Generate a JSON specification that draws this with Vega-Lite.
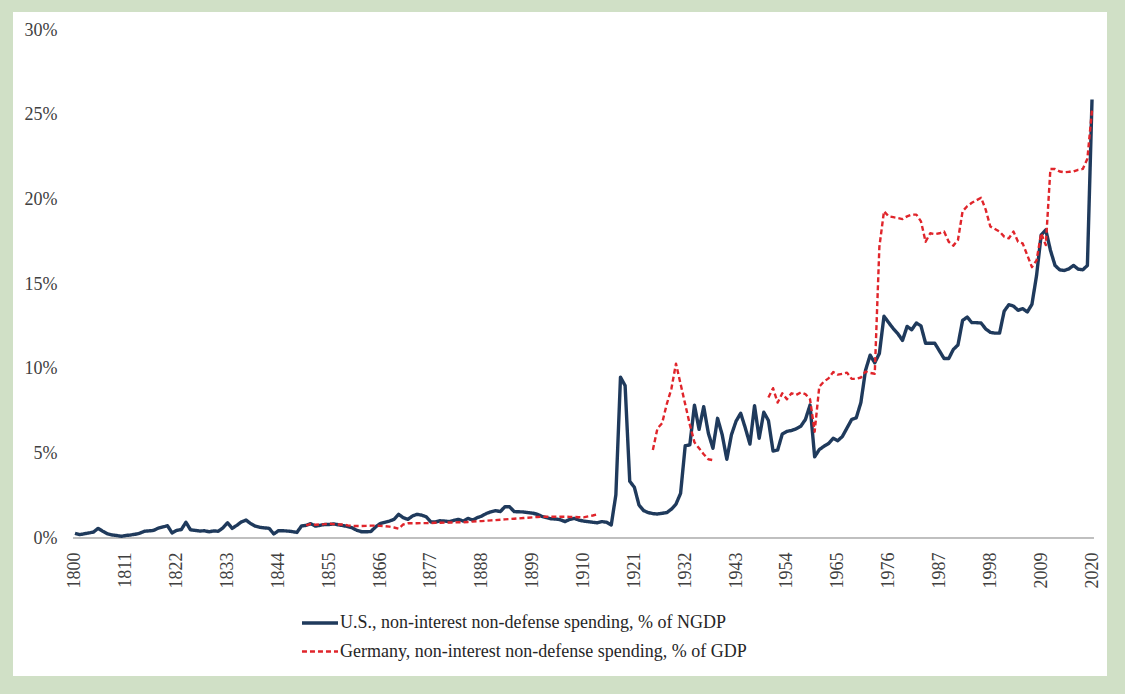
{
  "$schema": "https://vega.github.io/schema/vega-lite/v6.json",
  "width": 1094,
  "height": 664,
  "autosize": {"type": "none"},
  "padding": {"left": 13, "top": 12, "right": 18, "bottom": 18},
  "background": "#d0e0c6",
  "config": {
    "view": {"fill": "white", "stroke": null},
    "font": "Liberation Serif",
    "legend": {
      "orient": "none",
      "legendX": 287,
      "legendY": 591,
      "direction": "vertical",
      "title": null,
      "labelFontSize": 18,
      "labelFont": "Liberation Serif",
      "labelColor": "#262626",
      "labelLimit": 800,
      "labelOffset": 0,
      "symbolType": "stroke",
      "symbolSize": 1300,
      "rowPadding": -8
    }
  },
  "data": {"values": [
{"year":1800,"value":0.28,"series":"US","part":0},{"year":1801,"value":0.2,"series":"US","part":0},{"year":1802,"value":0.25,"series":"US","part":0},{"year":1803,"value":0.3,"series":"US","part":0},{"year":1804,"value":0.35,"series":"US","part":0},{"year":1805,"value":0.57,"series":"US","part":0},{"year":1806,"value":0.4,"series":"US","part":0},{"year":1807,"value":0.25,"series":"US","part":0},{"year":1808,"value":0.18,"series":"US","part":0},{"year":1809,"value":0.15,"series":"US","part":0},
{"year":1810,"value":0.1,"series":"US","part":0},{"year":1811,"value":0.15,"series":"US","part":0},{"year":1812,"value":0.18,"series":"US","part":0},{"year":1813,"value":0.22,"series":"US","part":0},{"year":1814,"value":0.28,"series":"US","part":0},{"year":1815,"value":0.4,"series":"US","part":0},{"year":1816,"value":0.42,"series":"US","part":0},{"year":1817,"value":0.45,"series":"US","part":0},{"year":1818,"value":0.58,"series":"US","part":0},{"year":1819,"value":0.66,"series":"US","part":0},
{"year":1820,"value":0.73,"series":"US","part":0},{"year":1821,"value":0.3,"series":"US","part":0},{"year":1822,"value":0.45,"series":"US","part":0},{"year":1823,"value":0.5,"series":"US","part":0},{"year":1824,"value":0.93,"series":"US","part":0},{"year":1825,"value":0.48,"series":"US","part":0},{"year":1826,"value":0.45,"series":"US","part":0},{"year":1827,"value":0.41,"series":"US","part":0},{"year":1828,"value":0.43,"series":"US","part":0},{"year":1829,"value":0.37,"series":"US","part":0},
{"year":1830,"value":0.42,"series":"US","part":0},{"year":1831,"value":0.4,"series":"US","part":0},{"year":1832,"value":0.6,"series":"US","part":0},{"year":1833,"value":0.9,"series":"US","part":0},{"year":1834,"value":0.57,"series":"US","part":0},{"year":1835,"value":0.75,"series":"US","part":0},{"year":1836,"value":0.95,"series":"US","part":0},{"year":1837,"value":1.06,"series":"US","part":0},{"year":1838,"value":0.85,"series":"US","part":0},{"year":1839,"value":0.7,"series":"US","part":0},
{"year":1840,"value":0.63,"series":"US","part":0},{"year":1841,"value":0.6,"series":"US","part":0},{"year":1842,"value":0.57,"series":"US","part":0},{"year":1843,"value":0.24,"series":"US","part":0},{"year":1844,"value":0.43,"series":"US","part":0},{"year":1845,"value":0.43,"series":"US","part":0},{"year":1846,"value":0.41,"series":"US","part":0},{"year":1847,"value":0.38,"series":"US","part":0},{"year":1848,"value":0.33,"series":"US","part":0},{"year":1849,"value":0.71,"series":"US","part":0},
{"year":1850,"value":0.75,"series":"US","part":0},{"year":1851,"value":0.85,"series":"US","part":0},{"year":1852,"value":0.7,"series":"US","part":0},{"year":1853,"value":0.75,"series":"US","part":0},{"year":1854,"value":0.8,"series":"US","part":0},{"year":1855,"value":0.8,"series":"US","part":0},{"year":1856,"value":0.83,"series":"US","part":0},{"year":1857,"value":0.78,"series":"US","part":0},{"year":1858,"value":0.73,"series":"US","part":0},{"year":1859,"value":0.68,"series":"US","part":0},
{"year":1860,"value":0.6,"series":"US","part":0},{"year":1861,"value":0.45,"series":"US","part":0},{"year":1862,"value":0.37,"series":"US","part":0},{"year":1863,"value":0.37,"series":"US","part":0},{"year":1864,"value":0.38,"series":"US","part":0},{"year":1865,"value":0.65,"series":"US","part":0},{"year":1866,"value":0.85,"series":"US","part":0},{"year":1867,"value":0.93,"series":"US","part":0},{"year":1868,"value":1.0,"series":"US","part":0},{"year":1869,"value":1.1,"series":"US","part":0},
{"year":1870,"value":1.4,"series":"US","part":0},{"year":1871,"value":1.2,"series":"US","part":0},{"year":1872,"value":1.1,"series":"US","part":0},{"year":1873,"value":1.3,"series":"US","part":0},{"year":1874,"value":1.4,"series":"US","part":0},{"year":1875,"value":1.35,"series":"US","part":0},{"year":1876,"value":1.25,"series":"US","part":0},{"year":1877,"value":0.95,"series":"US","part":0},{"year":1878,"value":0.95,"series":"US","part":0},{"year":1879,"value":1.02,"series":"US","part":0},
{"year":1880,"value":1.0,"series":"US","part":0},{"year":1881,"value":0.97,"series":"US","part":0},{"year":1882,"value":1.05,"series":"US","part":0},{"year":1883,"value":1.1,"series":"US","part":0},{"year":1884,"value":1.0,"series":"US","part":0},{"year":1885,"value":1.16,"series":"US","part":0},{"year":1886,"value":1.06,"series":"US","part":0},{"year":1887,"value":1.2,"series":"US","part":0},{"year":1888,"value":1.3,"series":"US","part":0},{"year":1889,"value":1.45,"series":"US","part":0},
{"year":1890,"value":1.55,"series":"US","part":0},{"year":1891,"value":1.62,"series":"US","part":0},{"year":1892,"value":1.56,"series":"US","part":0},{"year":1893,"value":1.85,"series":"US","part":0},{"year":1894,"value":1.85,"series":"US","part":0},{"year":1895,"value":1.56,"series":"US","part":0},{"year":1896,"value":1.55,"series":"US","part":0},{"year":1897,"value":1.54,"series":"US","part":0},{"year":1898,"value":1.5,"series":"US","part":0},{"year":1899,"value":1.47,"series":"US","part":0},
{"year":1900,"value":1.4,"series":"US","part":0},{"year":1901,"value":1.28,"series":"US","part":0},{"year":1902,"value":1.2,"series":"US","part":0},{"year":1903,"value":1.14,"series":"US","part":0},{"year":1904,"value":1.12,"series":"US","part":0},{"year":1905,"value":1.08,"series":"US","part":0},{"year":1906,"value":0.97,"series":"US","part":0},{"year":1907,"value":1.1,"series":"US","part":0},{"year":1908,"value":1.16,"series":"US","part":0},{"year":1909,"value":1.06,"series":"US","part":0},
{"year":1910,"value":1.0,"series":"US","part":0},{"year":1911,"value":0.97,"series":"US","part":0},{"year":1912,"value":0.93,"series":"US","part":0},{"year":1913,"value":0.9,"series":"US","part":0},{"year":1914,"value":0.97,"series":"US","part":0},{"year":1915,"value":0.93,"series":"US","part":0},{"year":1916,"value":0.77,"series":"US","part":0},{"year":1917,"value":2.55,"series":"US","part":0},{"year":1918,"value":9.5,"series":"US","part":0},{"year":1919,"value":9.0,"series":"US","part":0},
{"year":1920,"value":3.35,"series":"US","part":0},{"year":1921,"value":3.0,"series":"US","part":0},{"year":1922,"value":1.95,"series":"US","part":0},{"year":1923,"value":1.62,"series":"US","part":0},{"year":1924,"value":1.5,"series":"US","part":0},{"year":1925,"value":1.44,"series":"US","part":0},{"year":1926,"value":1.42,"series":"US","part":0},{"year":1927,"value":1.46,"series":"US","part":0},{"year":1928,"value":1.5,"series":"US","part":0},{"year":1929,"value":1.7,"series":"US","part":0},
{"year":1930,"value":2.0,"series":"US","part":0},{"year":1931,"value":2.64,"series":"US","part":0},{"year":1932,"value":5.45,"series":"US","part":0},{"year":1933,"value":5.5,"series":"US","part":0},{"year":1934,"value":7.85,"series":"US","part":0},{"year":1935,"value":6.42,"series":"US","part":0},{"year":1936,"value":7.76,"series":"US","part":0},{"year":1937,"value":6.2,"series":"US","part":0},{"year":1938,"value":5.3,"series":"US","part":0},{"year":1939,"value":7.07,"series":"US","part":0},
{"year":1940,"value":6.1,"series":"US","part":0},{"year":1941,"value":4.65,"series":"US","part":0},{"year":1942,"value":6.1,"series":"US","part":0},{"year":1943,"value":6.9,"series":"US","part":0},{"year":1944,"value":7.37,"series":"US","part":0},{"year":1945,"value":6.5,"series":"US","part":0},{"year":1946,"value":5.55,"series":"US","part":0},{"year":1947,"value":7.82,"series":"US","part":0},{"year":1948,"value":5.89,"series":"US","part":0},{"year":1949,"value":7.43,"series":"US","part":0},
{"year":1950,"value":6.94,"series":"US","part":0},{"year":1951,"value":5.14,"series":"US","part":0},{"year":1952,"value":5.2,"series":"US","part":0},{"year":1953,"value":6.15,"series":"US","part":0},{"year":1954,"value":6.3,"series":"US","part":0},{"year":1955,"value":6.35,"series":"US","part":0},{"year":1956,"value":6.45,"series":"US","part":0},{"year":1957,"value":6.6,"series":"US","part":0},{"year":1958,"value":7.0,"series":"US","part":0},{"year":1959,"value":7.85,"series":"US","part":0},
{"year":1960,"value":4.8,"series":"US","part":0},{"year":1961,"value":5.22,"series":"US","part":0},{"year":1962,"value":5.42,"series":"US","part":0},{"year":1963,"value":5.58,"series":"US","part":0},{"year":1964,"value":5.89,"series":"US","part":0},{"year":1965,"value":5.75,"series":"US","part":0},{"year":1966,"value":6.0,"series":"US","part":0},{"year":1967,"value":6.5,"series":"US","part":0},{"year":1968,"value":7.0,"series":"US","part":0},{"year":1969,"value":7.1,"series":"US","part":0},
{"year":1970,"value":8.0,"series":"US","part":0},{"year":1971,"value":9.9,"series":"US","part":0},{"year":1972,"value":10.8,"series":"US","part":0},{"year":1973,"value":10.35,"series":"US","part":0},{"year":1974,"value":10.9,"series":"US","part":0},{"year":1975,"value":13.1,"series":"US","part":0},{"year":1976,"value":12.73,"series":"US","part":0},{"year":1977,"value":12.37,"series":"US","part":0},{"year":1978,"value":12.07,"series":"US","part":0},{"year":1979,"value":11.67,"series":"US","part":0},
{"year":1980,"value":12.5,"series":"US","part":0},{"year":1981,"value":12.3,"series":"US","part":0},{"year":1982,"value":12.7,"series":"US","part":0},{"year":1983,"value":12.53,"series":"US","part":0},{"year":1984,"value":11.5,"series":"US","part":0},{"year":1985,"value":11.5,"series":"US","part":0},{"year":1986,"value":11.5,"series":"US","part":0},{"year":1987,"value":11.05,"series":"US","part":0},{"year":1988,"value":10.6,"series":"US","part":0},{"year":1989,"value":10.6,"series":"US","part":0},
{"year":1990,"value":11.14,"series":"US","part":0},{"year":1991,"value":11.4,"series":"US","part":0},{"year":1992,"value":12.85,"series":"US","part":0},{"year":1993,"value":13.05,"series":"US","part":0},{"year":1994,"value":12.72,"series":"US","part":0},{"year":1995,"value":12.72,"series":"US","part":0},{"year":1996,"value":12.7,"series":"US","part":0},{"year":1997,"value":12.35,"series":"US","part":0},{"year":1998,"value":12.15,"series":"US","part":0},{"year":1999,"value":12.1,"series":"US","part":0},
{"year":2000,"value":12.1,"series":"US","part":0},{"year":2001,"value":13.4,"series":"US","part":0},{"year":2002,"value":13.78,"series":"US","part":0},{"year":2003,"value":13.7,"series":"US","part":0},{"year":2004,"value":13.45,"series":"US","part":0},{"year":2005,"value":13.55,"series":"US","part":0},{"year":2006,"value":13.35,"series":"US","part":0},{"year":2007,"value":13.8,"series":"US","part":0},{"year":2008,"value":15.5,"series":"US","part":0},{"year":2009,"value":17.9,"series":"US","part":0},
{"year":2010,"value":18.2,"series":"US","part":0},{"year":2011,"value":17.0,"series":"US","part":0},{"year":2012,"value":16.1,"series":"US","part":0},{"year":2013,"value":15.84,"series":"US","part":0},{"year":2014,"value":15.8,"series":"US","part":0},{"year":2015,"value":15.9,"series":"US","part":0},{"year":2016,"value":16.1,"series":"US","part":0},{"year":2017,"value":15.88,"series":"US","part":0},{"year":2018,"value":15.84,"series":"US","part":0},{"year":2019,"value":16.1,"series":"US","part":0},
{"year":2020,"value":25.9,"series":"US","part":0},
{"year":1850,"value":0.75,"series":"Germany","part":1},{"year":1851,"value":0.83,"series":"Germany","part":1},{"year":1852,"value":0.78,"series":"Germany","part":1},{"year":1853,"value":0.8,"series":"Germany","part":1},{"year":1854,"value":0.82,"series":"Germany","part":1},{"year":1855,"value":0.85,"series":"Germany","part":1},{"year":1856,"value":0.82,"series":"Germany","part":1},{"year":1857,"value":0.8,"series":"Germany","part":1},{"year":1858,"value":0.8,"series":"Germany","part":1},{"year":1859,"value":0.75,"series":"Germany","part":1},
{"year":1860,"value":0.71,"series":"Germany","part":1},{"year":1861,"value":0.71,"series":"Germany","part":1},{"year":1862,"value":0.71,"series":"Germany","part":1},{"year":1863,"value":0.72,"series":"Germany","part":1},{"year":1864,"value":0.73,"series":"Germany","part":1},{"year":1865,"value":0.73,"series":"Germany","part":1},{"year":1866,"value":0.72,"series":"Germany","part":1},{"year":1867,"value":0.7,"series":"Germany","part":1},{"year":1868,"value":0.67,"series":"Germany","part":1},{"year":1869,"value":0.62,"series":"Germany","part":1},
{"year":1870,"value":0.55,"series":"Germany","part":1},{"year":1871,"value":0.8,"series":"Germany","part":1},{"year":1872,"value":0.87,"series":"Germany","part":1},{"year":1873,"value":0.87,"series":"Germany","part":1},{"year":1874,"value":0.87,"series":"Germany","part":1},{"year":1875,"value":0.88,"series":"Germany","part":1},{"year":1876,"value":0.88,"series":"Germany","part":1},{"year":1877,"value":0.89,"series":"Germany","part":1},{"year":1878,"value":0.9,"series":"Germany","part":1},{"year":1879,"value":0.9,"series":"Germany","part":1},
{"year":1880,"value":0.91,"series":"Germany","part":1},{"year":1881,"value":0.92,"series":"Germany","part":1},{"year":1882,"value":0.92,"series":"Germany","part":1},{"year":1883,"value":0.93,"series":"Germany","part":1},{"year":1884,"value":0.93,"series":"Germany","part":1},{"year":1885,"value":0.95,"series":"Germany","part":1},{"year":1886,"value":0.97,"series":"Germany","part":1},{"year":1887,"value":0.99,"series":"Germany","part":1},{"year":1888,"value":1.0,"series":"Germany","part":1},{"year":1889,"value":1.02,"series":"Germany","part":1},
{"year":1890,"value":1.04,"series":"Germany","part":1},{"year":1891,"value":1.06,"series":"Germany","part":1},{"year":1892,"value":1.08,"series":"Germany","part":1},{"year":1893,"value":1.1,"series":"Germany","part":1},{"year":1894,"value":1.12,"series":"Germany","part":1},{"year":1895,"value":1.14,"series":"Germany","part":1},{"year":1896,"value":1.16,"series":"Germany","part":1},{"year":1897,"value":1.18,"series":"Germany","part":1},{"year":1898,"value":1.2,"series":"Germany","part":1},{"year":1899,"value":1.22,"series":"Germany","part":1},
{"year":1900,"value":1.24,"series":"Germany","part":1},{"year":1901,"value":1.25,"series":"Germany","part":1},{"year":1902,"value":1.26,"series":"Germany","part":1},{"year":1903,"value":1.26,"series":"Germany","part":1},{"year":1904,"value":1.26,"series":"Germany","part":1},{"year":1905,"value":1.26,"series":"Germany","part":1},{"year":1906,"value":1.26,"series":"Germany","part":1},{"year":1907,"value":1.25,"series":"Germany","part":1},{"year":1908,"value":1.24,"series":"Germany","part":1},{"year":1909,"value":1.23,"series":"Germany","part":1},
{"year":1910,"value":1.22,"series":"Germany","part":1},{"year":1911,"value":1.28,"series":"Germany","part":1},{"year":1912,"value":1.33,"series":"Germany","part":1},{"year":1913,"value":1.4,"series":"Germany","part":1},
{"year":1925,"value":5.2,"series":"Germany","part":2},{"year":1926,"value":6.48,"series":"Germany","part":2},{"year":1927,"value":6.78,"series":"Germany","part":2},{"year":1928,"value":7.9,"series":"Germany","part":2},{"year":1929,"value":8.8,"series":"Germany","part":2},{"year":1930,"value":10.3,"series":"Germany","part":2},{"year":1931,"value":9.1,"series":"Germany","part":2},{"year":1932,"value":7.9,"series":"Germany","part":2},{"year":1933,"value":6.7,"series":"Germany","part":2},{"year":1934,"value":5.65,"series":"Germany","part":2},
{"year":1935,"value":5.3,"series":"Germany","part":2},{"year":1936,"value":4.95,"series":"Germany","part":2},{"year":1937,"value":4.65,"series":"Germany","part":2},{"year":1938,"value":4.6,"series":"Germany","part":2},
{"year":1950,"value":8.3,"series":"Germany","part":3},{"year":1951,"value":8.85,"series":"Germany","part":3},{"year":1952,"value":8.0,"series":"Germany","part":3},{"year":1953,"value":8.55,"series":"Germany","part":3},{"year":1954,"value":8.2,"series":"Germany","part":3},{"year":1955,"value":8.55,"series":"Germany","part":3},{"year":1956,"value":8.45,"series":"Germany","part":3},{"year":1957,"value":8.6,"series":"Germany","part":3},{"year":1958,"value":8.5,"series":"Germany","part":3},{"year":1959,"value":8.2,"series":"Germany","part":3},
{"year":1960,"value":6.28,"series":"Germany","part":3},{"year":1961,"value":8.94,"series":"Germany","part":3},{"year":1962,"value":9.24,"series":"Germany","part":3},{"year":1963,"value":9.43,"series":"Germany","part":3},{"year":1964,"value":9.8,"series":"Germany","part":3},{"year":1965,"value":9.65,"series":"Germany","part":3},{"year":1966,"value":9.7,"series":"Germany","part":3},{"year":1967,"value":9.77,"series":"Germany","part":3},{"year":1968,"value":9.4,"series":"Germany","part":3},{"year":1969,"value":9.4,"series":"Germany","part":3},
{"year":1970,"value":9.48,"series":"Germany","part":3},{"year":1971,"value":9.83,"series":"Germany","part":3},{"year":1972,"value":9.75,"series":"Germany","part":3},{"year":1973,"value":9.7,"series":"Germany","part":3},{"year":1974,"value":17.2,"series":"Germany","part":3},{"year":1975,"value":19.3,"series":"Germany","part":3},{"year":1976,"value":19.0,"series":"Germany","part":3},{"year":1977,"value":18.95,"series":"Germany","part":3},{"year":1978,"value":18.9,"series":"Germany","part":3},{"year":1979,"value":18.84,"series":"Germany","part":3},
{"year":1980,"value":19.0,"series":"Germany","part":3},{"year":1981,"value":19.1,"series":"Germany","part":3},{"year":1982,"value":19.1,"series":"Germany","part":3},{"year":1983,"value":18.7,"series":"Germany","part":3},{"year":1984,"value":17.5,"series":"Germany","part":3},{"year":1985,"value":18.0,"series":"Germany","part":3},{"year":1986,"value":17.95,"series":"Germany","part":3},{"year":1987,"value":18.0,"series":"Germany","part":3},{"year":1988,"value":18.1,"series":"Germany","part":3},{"year":1989,"value":17.5,"series":"Germany","part":3},
{"year":1990,"value":17.27,"series":"Germany","part":3},{"year":1991,"value":17.6,"series":"Germany","part":3},{"year":1992,"value":19.3,"series":"Germany","part":3},{"year":1993,"value":19.6,"series":"Germany","part":3},{"year":1994,"value":19.8,"series":"Germany","part":3},{"year":1995,"value":19.95,"series":"Germany","part":3},{"year":1996,"value":20.1,"series":"Germany","part":3},{"year":1997,"value":19.4,"series":"Germany","part":3},{"year":1998,"value":18.4,"series":"Germany","part":3},{"year":1999,"value":18.25,"series":"Germany","part":3},
{"year":2000,"value":18.1,"series":"Germany","part":3},{"year":2001,"value":17.8,"series":"Germany","part":3},{"year":2002,"value":17.7,"series":"Germany","part":3},{"year":2003,"value":18.1,"series":"Germany","part":3},{"year":2004,"value":17.5,"series":"Germany","part":3},{"year":2005,"value":17.4,"series":"Germany","part":3},{"year":2006,"value":16.7,"series":"Germany","part":3},{"year":2007,"value":16.0,"series":"Germany","part":3},{"year":2008,"value":16.4,"series":"Germany","part":3},{"year":2009,"value":18.0,"series":"Germany","part":3},
{"year":2010,"value":17.3,"series":"Germany","part":3},{"year":2011,"value":21.8,"series":"Germany","part":3},{"year":2012,"value":21.8,"series":"Germany","part":3},{"year":2013,"value":21.65,"series":"Germany","part":3},{"year":2014,"value":21.6,"series":"Germany","part":3},{"year":2015,"value":21.63,"series":"Germany","part":3},{"year":2016,"value":21.65,"series":"Germany","part":3},{"year":2017,"value":21.75,"series":"Germany","part":3},{"year":2018,"value":21.8,"series":"Germany","part":3},{"year":2019,"value":22.4,"series":"Germany","part":3},
{"year":2020,"value":25.3,"series":"Germany","part":3}
  ]},
  "layer": [
    {
      "mark": {"type": "rule", "color": "#bfbfbf", "strokeWidth": 1},
      "encoding": {
        "x": {
          "datum": 1799.6,
          "type": "quantitative",
          "scale": {"domain": [1786.59, 2023.24], "nice": false, "zero": false},
          "axis": {
            "title": null,
            "values": [1800,1811,1822,1833,1844,1855,1866,1877,1888,1899,1910,1921,1932,1943,1954,1965,1976,1987,1998,2009,2020],
            "format": "d",
            "labelAngle": 270,
            "labelAlign": "right",
            "labelBaseline": "middle",
            "labelPadding": 14,
            "labelFontSize": 18,
            "labelFont": "Liberation Serif",
            "labelColor": "#404040",
            "labelOverlap": false,
            "labelFlush": false,
            "labelBound": false,
            "ticks": false,
            "domain": false,
            "grid": false,
            "offset": -138
          }
        },
        "x2": {"datum": 2020.3},
        "y": {
          "datum": 0,
          "type": "quantitative",
          "scale": {"domain": [-8.15, 31.07], "nice": false, "zero": false},
          "axis": {
            "title": null,
            "values": [0,5,10,15,20,25,30],
            "labelExpr": "datum.value + '%'",
            "labelFontSize": 18,
            "labelFont": "Liberation Serif",
            "labelColor": "#404040",
            "labelPadding": 0,
            "ticks": false,
            "domain": false,
            "grid": false,
            "offset": -44
          }
        }
      }
    },
    {
      "mark": {"type": "line", "strokeJoin": "round"},
      "encoding": {
        "x": {"field": "year", "type": "quantitative"},
        "y": {"field": "value", "type": "quantitative"},
        "detail": {"field": "part", "type": "nominal"},
        "order": {"field": "year", "type": "quantitative"},
        "color": {
          "field": "series", "type": "nominal",
          "scale": {"domain": ["US", "Germany"], "range": ["#1f3a5c", "#e0252b"]},
          "legend": {
            "labelExpr": "datum.label == 'US' ? 'U.S., non-interest non-defense spending, % of NGDP' : 'Germany, non-interest non-defense spending, % of GDP'"
          }
        },
        "strokeDash": {
          "field": "series", "type": "nominal",
          "scale": {"domain": ["US", "Germany"], "range": [[1, 0], [5, 3]]},
          "legend": {
            "labelExpr": "datum.label == 'US' ? 'U.S., non-interest non-defense spending, % of NGDP' : 'Germany, non-interest non-defense spending, % of GDP'"
          }
        },
        "strokeWidth": {
          "field": "series", "type": "nominal",
          "scale": {"domain": ["US", "Germany"], "range": [3.4, 2.4]},
          "legend": {
            "labelExpr": "datum.label == 'US' ? 'U.S., non-interest non-defense spending, % of NGDP' : 'Germany, non-interest non-defense spending, % of GDP'"
          }
        }
      }
    }
  ]
}
